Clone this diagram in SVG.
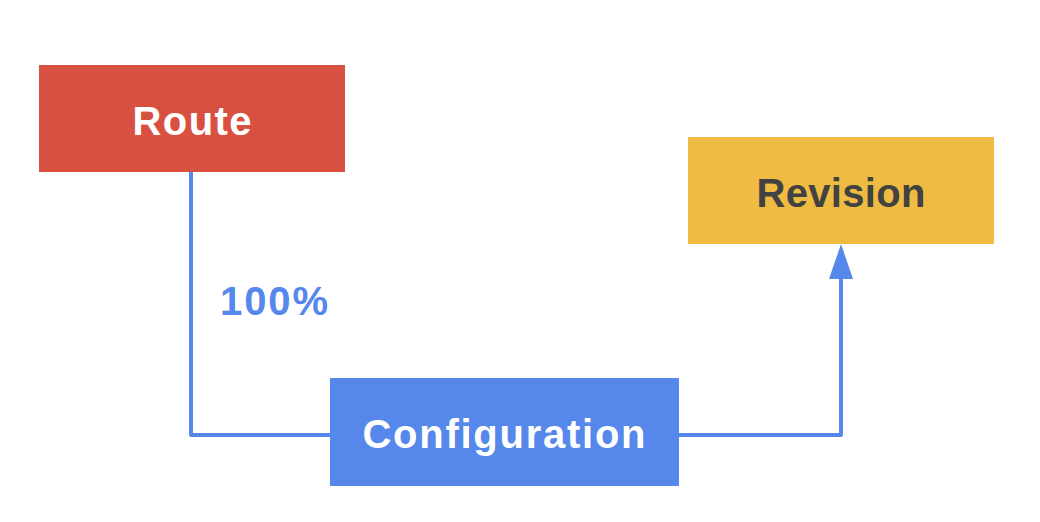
<svg xmlns="http://www.w3.org/2000/svg" width="1040" height="522" viewBox="0 0 1040 522">
<defs>
<style>
.lbl{font-family:"Liberation Sans",Arial,sans-serif;font-weight:bold;font-size:40px;text-anchor:middle}
.conn{fill:none;stroke:#5687EB;stroke-width:4;stroke-linejoin:round}
</style>
</defs>
<rect width="1040" height="522" fill="#ffffff"/>
<g id="connectors">
<path class="conn" d="M191 172 V435 H330"/>
<path class="conn" d="M679 435 H841 V276"/>
<polygon points="841,244 853,279 829,279" fill="#5687EB"/>
<text class="lbl" x="274" y="315" fill="#5687EB" textLength="108">100%</text>
</g>
<g id="route">
<rect x="39" y="65" width="306" height="107" fill="#D85140"/>
<text class="lbl" x="192" y="135" fill="#ffffff" textLength="119">Route</text>
</g>
<g id="revision">
<rect x="688" y="137" width="306" height="107" fill="#F0BB42"/>
<text class="lbl" x="841" y="207" fill="#424242" textLength="169">Revision</text>
</g>
<g id="configuration">
<rect x="330" y="378" width="349" height="108" fill="#5687EB"/>
<text class="lbl" x="504" y="448" fill="#ffffff" textLength="283">Configuration</text>
</g>
</svg>
